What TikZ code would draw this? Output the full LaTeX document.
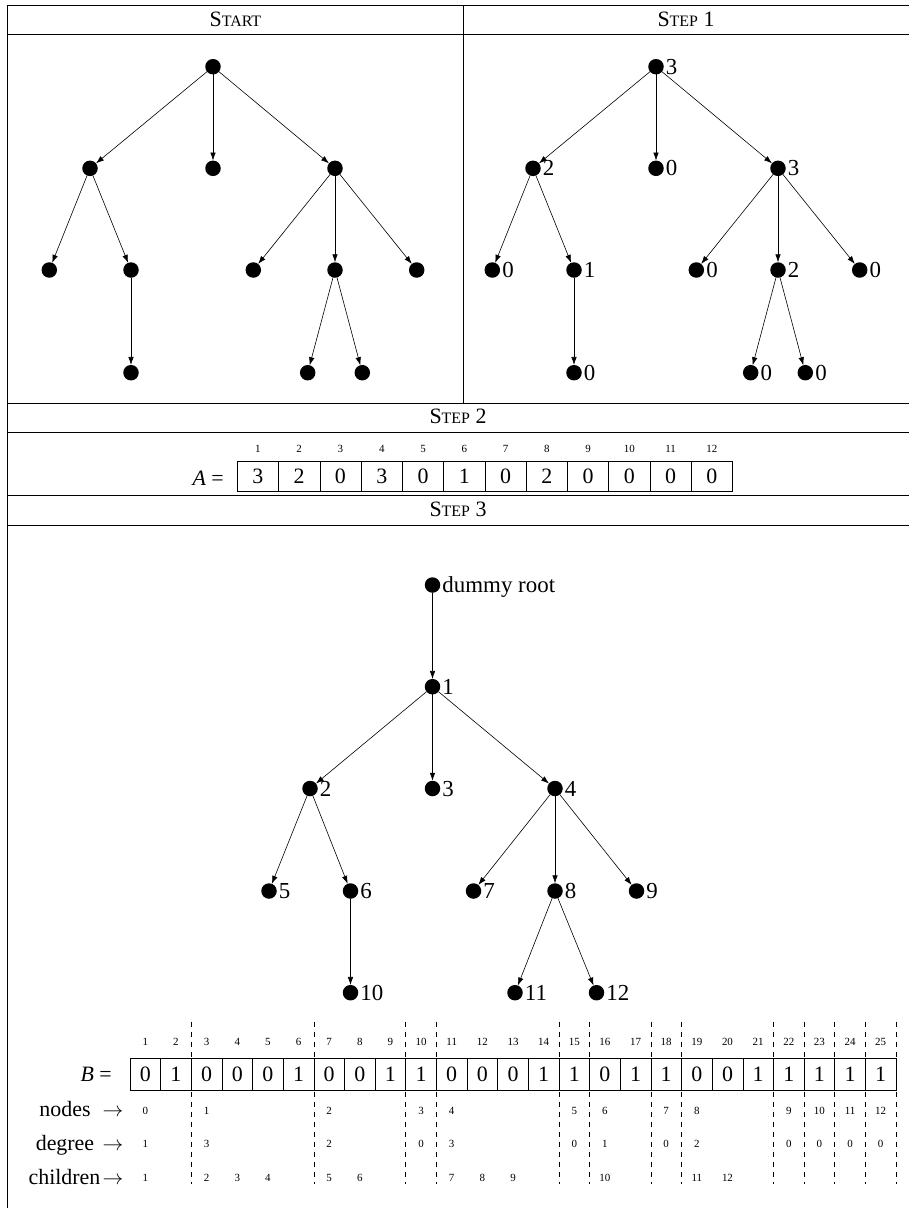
\documentclass[tikz,border=0pt]{standalone}
\usepackage{fontspec}
\setmainfont{Liberation Serif}
\usetikzlibrary{arrows.meta}
\newcommand\bigf{\fontsize{22}{26}\selectfont}
\newcommand\labf{\fontsize{23}{27}\selectfont}
\newcommand\smf{\fontsize{11}{13}\selectfont}
\newcommand\scf{\fontsize{16}{19}\selectfont}
\begin{document}
\begin{tikzpicture}[x=1bp,y=-1bp,
  dot/.style={circle,fill=black,draw=none,minimum size=15.5bp,inner sep=0pt,outer sep=0pt},
  lab/.style={font=\labf,inner sep=2bp,text depth=0pt},
  edge/.style={-{Latex[length=8bp,width=5.5bp]},line width=0.6bp},
  rule/.style={line width=0.8bp},
  head/.style={font=\bigf,inner sep=0pt},
  acell/.style={draw,line width=0.6bp,minimum width=41.27bp,minimum height=29.3bp,inner sep=0pt,font=\bigf},
  bcell/.style={draw,line width=0.6bp,minimum width=30.64bp,minimum height=31.3bp,inner sep=0pt,font=\bigf},
  idx/.style={font=\smf,inner sep=0pt},
  rowlab/.style={font=\bigf,inner sep=0pt,anchor=base},
  dsh/.style={line width=0.6bp,dash pattern=on 5bp off 5bp}]
\useasboundingbox (0,0) rectangle (909,1208);

% table rules
\draw[rule] (7.7,1208) -- (7.7,5.7) -- (909,5.7);
\foreach \yy in {34.3,403,432.3,495,525} {\draw[rule] (7.7,\yy) -- (909,\yy);}
\draw[rule] (463,5.7) -- (463,403);

% headers
\node[head] (hstart) at (235.4,19) {S{\scf TART}};
\node[head] (hstep1) at (686,19) {S{\scf TEP} 1};
\node[head] (hstep2) at (458,416.5) {S{\scf TEP} 2};
\node[head] (hstep3) at (458,509) {S{\scf TEP} 3};

% ---------- Start tree
\node[dot] (sr) at (213,66.7) {};
\node[dot] (sa) at (90,168.3) {};
\node[dot] (sb) at (213,168.3) {};
\node[dot] (sc) at (335,168.3) {};
\node[dot] (sa1) at (49.3,270) {};
\node[dot] (sa2) at (131,270) {};
\node[dot] (sc1) at (253.3,270) {};
\node[dot] (sc2) at (335,270) {};
\node[dot] (sc3) at (416.7,270) {};
\node[dot] (sa21) at (131,372.7) {};
\node[dot] (sc21) at (307.7,372.7) {};
\node[dot] (sc22) at (362.3,372.7) {};
\foreach \u/\v in {sr/sa,sr/sb,sr/sc,sa/sa1,sa/sa2,sc/sc1,sc/sc2,sc/sc3,sa2/sa21,sc2/sc21,sc2/sc22}
  {\draw[edge] (\u) -- (\v);}

% ---------- Step 1 tree
\node[dot,label={[lab]right:3}] (tr) at (656,66.7) {};
\node[dot,label={[lab]right:2}] (ta) at (533,168.3) {};
\node[dot,label={[lab]right:0}] (tb) at (656,168.3) {};
\node[dot,label={[lab]right:3}] (tc) at (778,168.3) {};
\node[dot,label={[lab]right:0}] (ta1) at (492.3,270) {};
\node[dot,label={[lab]right:1}] (ta2) at (574,270) {};
\node[dot,label={[lab]right:0}] (tc1) at (696.3,270) {};
\node[dot,label={[lab]right:2}] (tc2) at (778,270) {};
\node[dot,label={[lab]right:0}] (tc3) at (859.7,270) {};
\node[dot,label={[lab]right:0}] (ta21) at (574,372.7) {};
\node[dot,label={[lab]right:0}] (tc21) at (750.7,372.7) {};
\node[dot,label={[lab]right:0}] (tc22) at (805.3,372.7) {};
\foreach \u/\v in {tr/ta,tr/tb,tr/tc,ta/ta1,ta/ta2,tc/tc1,tc/tc2,tc/tc3,ta2/ta21,tc2/tc21,tc2/tc22}
  {\draw[edge] (\u) -- (\v);}

% ---------- Step 2 array A
\node[font=\bigf,inner sep=0pt,anchor=base east] (aeq) at (224,485.7) {{\itshape A} =};
\foreach \v [count=\i] in {3,2,0,3,0,1,0,2,0,0,0,0} {
  \node[acell] (a\i) at ({237.3+41.27*(\i-0.5)},476.3) {\v};
  \node[idx] (ai\i) at ({237.3+41.27*(\i-0.5)},449) {\i};
}

% ---------- Step 3 tree
\node[dot,label={[lab]right:dummy root}] (d0) at (432.5,585) {};
\node[dot,label={[lab]right:1}] (n1) at (432.5,686.7) {};
\node[dot,label={[lab]right:2}] (n2) at (310,788.5) {};
\node[dot,label={[lab]right:3}] (n3) at (432.5,788.5) {};
\node[dot,label={[lab]right:4}] (n4) at (555,788.5) {};
\node[dot,label={[lab]right:5}] (n5) at (269,891) {};
\node[dot,label={[lab]right:6}] (n6) at (350.5,891) {};
\node[dot,label={[lab]right:7}] (n7) at (473.5,891) {};
\node[dot,label={[lab]right:8}] (n8) at (555,891) {};
\node[dot,label={[lab]right:9}] (n9) at (636.5,891) {};
\node[dot,label={[lab]right:10}] (n10) at (350.5,992.7) {};
\node[dot,label={[lab]right:11}] (n11) at (515,992.7) {};
\node[dot,label={[lab]right:12}] (n12) at (596.5,992.7) {};
\foreach \u/\v in {d0/n1,n1/n2,n1/n3,n1/n4,n2/n5,n2/n6,n4/n7,n4/n8,n4/n9,n6/n10,n8/n11,n8/n12}
  {\draw[edge] (\u) -- (\v);}

% ---------- array B
\foreach \k in {2,6,9,10,14,15,17,18,21,22,23,24,25}
  {\draw[dsh] ({130+30.64*\k},1021.7) -- ({130+30.64*\k},1184);}
\node[font=\bigf,inner sep=0pt,anchor=base east] (beq) at (112,1081.7) {{\itshape B} =};
\foreach \v [count=\i] in {0,1,0,0,0,1,0,0,1,1,0,0,0,1,1,0,1,1,0,0,1,1,1,1,1} {
  \node[bcell,fill=white] (b\i) at ({130+30.64*(\i-0.5)},1074.3) {\v};
  \node[idx] (bi\i) at ({130+30.64*(\i-0.5)},1042.3) {\i};
}
\node[rowlab] (lnodes) at (65,1116.7) {nodes};
\node[rowlab] (ldeg) at (65,1150) {degree};
\node[rowlab] (lchi) at (64.5,1184) {children};
\node[rowlab] (arr1) at (113,1116.7) {$\rightarrow$};
\node[rowlab] (arr2) at (113,1150) {$\rightarrow$};
\node[rowlab] (arr3) at (113,1184) {$\rightarrow$};
\foreach \c/\v in {1/0,3/1,7/2,10/3,11/4,15/5,16/6,18/7,19/8,22/9,23/10,24/11,25/12}
  {\node[idx,fill=white,inner sep=1bp] (vn\c) at ({130+30.64*(\c-0.5)},1111) {\v};}
\foreach \c/\v in {1/1,3/3,7/2,10/0,11/3,15/0,16/1,18/0,19/2,22/0,23/0,24/0,25/0}
  {\node[idx,fill=white,inner sep=1bp] (vd\c) at ({130+30.64*(\c-0.5)},1144) {\v};}
\foreach \c/\v in {1/1,3/2,4/3,5/4,7/5,8/6,11/7,12/8,13/9,16/10,19/11,20/12}
  {\node[idx,fill=white,inner sep=1bp] (vc\c) at ({130+30.64*(\c-0.5)},1178) {\v};}
\end{tikzpicture}
\end{document}
